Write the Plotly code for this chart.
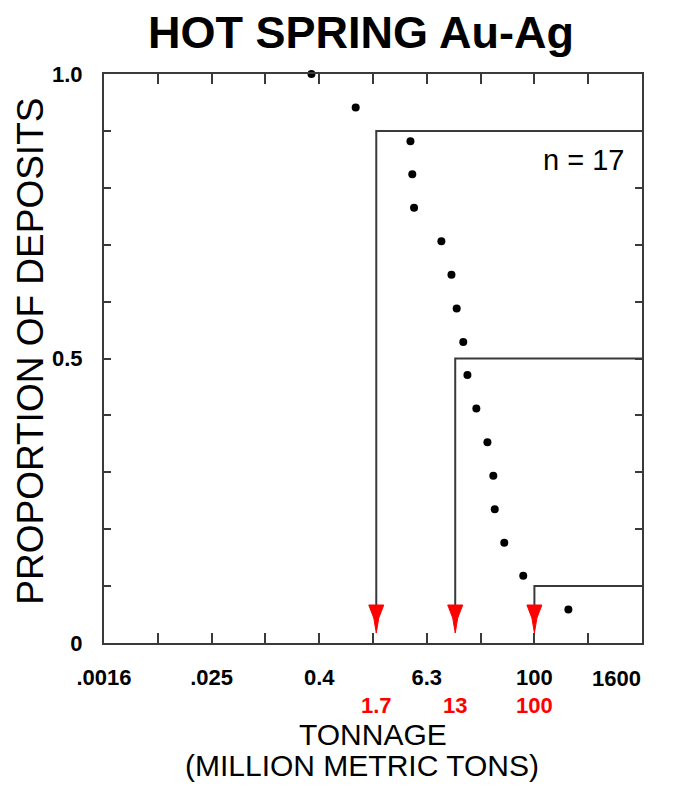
import math
import plotly.graph_objects as go

# Deposit tonnages (million metric tons), sorted, with cumulative proportion
tonnage = [0.32, 1.0, 4.1, 4.3, 4.5, 9.1, 11.8, 13.5, 16.0, 17.8, 22.4, 29.8, 34.7, 36.0, 46.0, 75.0, 240.0]
proportion = [1.0, 0.941, 0.882, 0.824, 0.765, 0.706, 0.647, 0.588, 0.529,
              0.471, 0.412, 0.353, 0.294, 0.235, 0.176, 0.118, 0.059]

# 90th, 50th and 10th percentile tonnages
pct_levels = [0.9, 0.5, 0.1]
pct_tonnage = [1.7, 13, 100]
pct_labels = ["1.7", "13", "100"]

# Log axis ticks: factors of 4, labelled every factor of 16
x_ticks = [100 * 4.0 ** k for k in range(-8, 3)]
x_ticklabels = [".0016", "", ".025", "", "0.4", "", "6.3", "", "100", "", ""]
x_last_label = "1600"  # right-aligned to the frame edge instead of centred
y_ticks = [i / 10 for i in range(11)]
y_ticklabels = ["0", "", "", "", "", "0.5", "", "", "", "", "1.0"]

n_deposits = 17

FONT = "Liberation Sans, Arial, Helvetica, sans-serif"
LINE = "#3a3a3a"
RED = "#ff0000"
ARROW_TOP = 0.067  # where the step lines meet the red arrowheads
TICKFONT = dict(family=FONT, size=22, color="black", weight="bold")

x_min, x_max = x_ticks[0], x_ticks[-1]

fig = go.Figure()

# Percentile step lines: drop from the level to the arrow, run across to the right edge
for lvl, t in zip(pct_levels, pct_tonnage):
    fig.add_trace(go.Scatter(
        x=[t, t, x_max], y=[ARROW_TOP, lvl, lvl], mode="lines",
        line=dict(color=LINE, width=2), hoverinfo="skip", showlegend=False,
        cliponaxis=False,
    ))

# Deposit points
fig.add_trace(go.Scatter(
    x=tonnage, y=proportion, mode="markers",
    marker=dict(color="black", size=8), showlegend=False, cliponaxis=False,
))

# Red arrowheads anchored at each percentile tonnage (path in pixels above the axis)
arrow_path = "M -7.5,38 L 7.5,38 L 2.5,25 L 0,10 L -2.5,25 Z"
shapes = []
for t in pct_tonnage:
    shapes.append(dict(
        type="path", xref="x", yref="y", xsizemode="pixel", ysizemode="pixel",
        xanchor=t, yanchor=0, path=arrow_path,
        fillcolor=RED, line=dict(color=RED, width=1), layer="above",
    ))

annotations = []
for t, lab in zip(pct_tonnage, pct_labels):
    annotations.append(dict(
        x=math.log10(t), y=0, xref="x", yref="paper", text=lab, showarrow=False,
        xanchor="center", yanchor="middle", yshift=-62,
        font=dict(family=FONT, size=22, color=RED, weight="bold"),
    ))

annotations += [
    dict(x=math.log10(x_max), y=0, xref="x", yref="paper", text=x_last_label,
         showarrow=False, xanchor="right", yanchor="middle", yshift=-35, xshift=1,
         font=TICKFONT),
    dict(x=0.97, y=0.849, xref="paper", yref="paper", text="n = %d" % n_deposits,
         showarrow=False, xanchor="right", yanchor="middle",
         font=dict(family=FONT, size=29, color="black")),
    dict(x=0.5, y=0, xref="paper", yref="paper", text="TONNAGE", showarrow=False,
         xanchor="center", yanchor="middle", yshift=-91,
         font=dict(family=FONT, size=30, color="black")),
    dict(x=0.48, y=0, xref="paper", yref="paper", text="(MILLION METRIC TONS)",
         showarrow=False, xanchor="center", yanchor="middle", yshift=-122,
         font=dict(family=FONT, size=30, color="black")),
    dict(x=0, y=0.512, xref="paper", yref="paper", text="PROPORTION OF DEPOSITS",
         showarrow=False, xanchor="center", yanchor="middle", xshift=-73,
         textangle=-90, font=dict(family=FONT, size=37, color="black")),
]

axis_common = dict(
    showline=True, linecolor=LINE, linewidth=2, mirror="ticks",
    ticks="inside", tickcolor=LINE, tickwidth=1.5, showgrid=False, zeroline=False,
    automargin=False, tickfont=TICKFONT,
)

fig.update_layout(
    width=678, height=787,
    margin=dict(l=104, r=36, t=74, b=144),
    paper_bgcolor="white", plot_bgcolor="white",
    title=dict(text="HOT SPRING Au-Ag", xref="container", yref="container",
               x=361 / 678, y=1 - 32 / 787, xanchor="center", yanchor="middle",
               font=dict(family=FONT, size=45, color="black", weight="bold")),
    xaxis=dict(type="log", range=[math.log10(x_min), math.log10(x_max)],
               tickmode="array", tickvals=x_ticks, ticktext=x_ticklabels,
               ticklen=10, ticklabelstandoff=14, **axis_common),
    yaxis=dict(range=[0, 1], tickmode="array", tickvals=y_ticks, ticktext=y_ticklabels,
               ticklen=7, ticklabelstandoff=15, **axis_common),
    shapes=shapes, annotations=annotations,
)

fig.write_html("out.html")
